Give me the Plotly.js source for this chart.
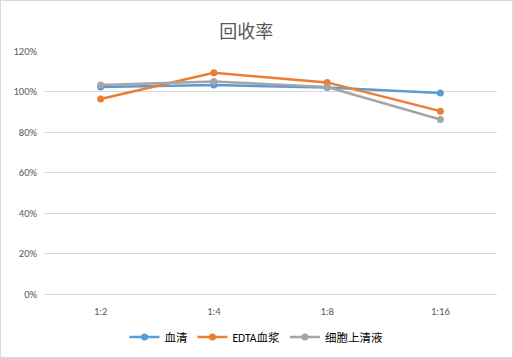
<!DOCTYPE html>
<html><head><meta charset="utf-8">
<script src="https://cdn.plot.ly/plotly-3.0.1.min.js"></script>
<style>html,body{margin:0;padding:0;background:#fff}#c{width:513px;height:358px;box-sizing:border-box;border:1px solid #D9D9D9}</style>
</head><body><div id="c"></div>
<script>
const categories = ["1:2", "1:4", "1:8", "1:16"];
const serumVals = [1.022, 1.032, 1.020, 0.993];
const edtaVals = [0.963, 1.092, 1.045, 0.903];
const supernatantVals = [1.032, 1.050, 1.022, 0.862];
const seriesNames = ["血清", "EDTA血浆", "细胞上清液"];
const yTickVals = [0, 0.2, 0.4, 0.6, 0.8, 1.0, 1.2];
const yTickText = ["0%", "20%", "40%", "60%", "80%", "100%", "120%"];
const colors = ["#5B9BD5", "#ED7D31", "#A5A5A5"];
const series = [serumVals, edtaVals, supernatantVals];
const font = "Calibri, 'Liberation Sans', 'Noto Sans CJK SC', sans-serif";
const traces = series.map((v, i) => ({
  x: categories, y: v, name: seriesNames[i], type: "scatter", mode: "lines+markers",
  line: {color: colors[i], width: 2.5}, marker: {color: colors[i], size: 7}
}));
Plotly.newPlot("c", traces, {
  width: 511, height: 356,
  margin: {l: 43, r: 15, t: 50, b: 63},
  paper_bgcolor: "#fff", plot_bgcolor: "#fff",
  title: {text: "回收率", x: 0.48, xref: "container", y: 0.915, yref: "container", yanchor: "middle",
    font: {family: "'Noto Sans CJK SC', sans-serif", size: 18, color: "#595959"}},
  xaxis: {type: "category", range: [-0.5, 3.5], showgrid: false, zeroline: false, showline: false, ticks: "",
    tickfont: {family: font, size: 10.5, color: "#595959"}, ticklabelstandoff: 9},
  yaxis: {range: [0, 1.2], tickvals: yTickVals, ticktext: yTickText, showgrid: true,
    gridcolor: "#D9D9D9", gridwidth: 1, zeroline: true, zerolinecolor: "#D9D9D9", showline: false, ticks: "",
    tickfont: {family: font, size: 10.5, color: "#595959"}, ticklabelstandoff: 6},
  showlegend: true,
  legend: {orientation: "h", x: 0.5, xref: "container", xanchor: "center", y: 0.056, yref: "container", yanchor: "middle",
    font: {family: font, size: 11.5, color: "#000"}, itemwidth: 30, tracegroupgap: 0}
}, {displayModeBar: false, staticPlot: true});
</script></body></html>
